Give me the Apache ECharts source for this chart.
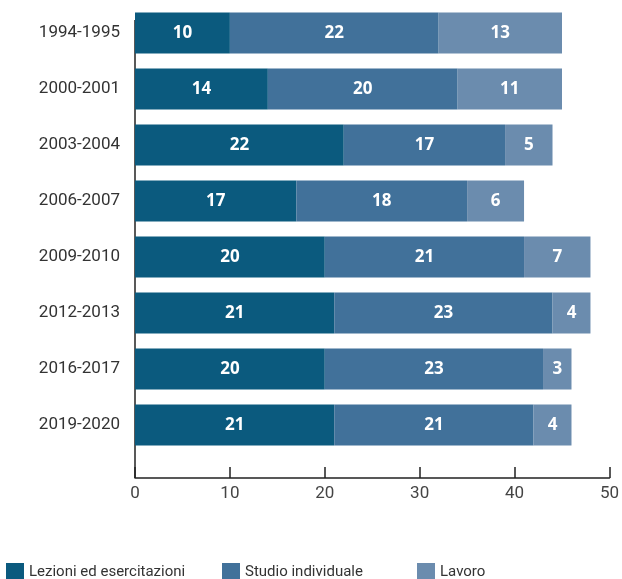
<!DOCTYPE html>
<html>
<head>
<meta charset="utf-8">
<script src="https://cdn.jsdelivr.net/npm/echarts@6/dist/echarts.min.js"></script>
<style>
  html, body { margin: 0; padding: 0; background: #fff; }
  #chart { width: 622px; height: 579px; }
</style>
</head>
<body>
<div id="chart"></div>
<script>
// anni accademici
var categories = ["1994-1995", "2000-2001", "2003-2004", "2006-2007", "2009-2010", "2012-2013", "2016-2017", "2019-2020"];
var lezioni = [10, 14, 22, 17, 20, 21, 20, 21];
var studio = [22, 20, 17, 18, 21, 23, 23, 21];
var lavoro = [13, 11, 5, 6, 7, 4, 3, 4];
var seriesNames = ["Lezioni ed esercitazioni", "Studio individuale", "Lavoro"];
var colors = ["#0b5a7e", "#41719a", "#6b8cae"];

var myChart = echarts.init(document.getElementById("chart"));

function makeSeries(name, data, color) {
  return {
    name: name,
    type: "bar",
    stack: "tot",
    data: data,
    barWidth: 41,
    itemStyle: { color: color },
    label: {
      show: true,
      position: "inside",
      color: "#fff",
      fontWeight: "bold",
      fontSize: 17,
      fontFamily: "Open Sans"
    }
  };
}

function makeLegend(i, left) {
  return {
    data: [seriesNames[i]],
    left: left,
    top: 558,
    itemWidth: 18,
    itemHeight: 18,
    icon: "rect",
    itemGap: 8,
    textStyle: { fontSize: 15, color: "#333", fontFamily: "Roboto" }
  };
}

var option = {
  animation: false,
  color: colors,
  grid: { left: 135, right: 11, top: 5, height: 448 },
  legend: [makeLegend(0, 1), makeLegend(1, 217), makeLegend(2, 412)],
  xAxis: {
    type: "value",
    min: 0,
    max: 50,
    interval: 10,
    offset: 25,
    splitLine: { show: false },
    axisLine: { show: true, lineStyle: { color: "#222", width: 1.5 } },
    axisTick: { show: true, inside: true, length: 11, lineStyle: { color: "#222", width: 1.5 } },
    axisLabel: { fontSize: 17, color: "#444", margin: 7, fontFamily: "Roboto" }
  },
  yAxis: {
    type: "category",
    inverse: true,
    data: categories,
    axisLine: { show: false },
    axisTick: { show: false },
    axisLabel: { fontSize: 17, color: "#333", margin: 15, fontFamily: "Roboto" }
  },
  graphic: [{
    type: "line",
    shape: { x1: 135, y1: 20, x2: 135, y2: 478 },
    style: { stroke: "#222", lineWidth: 1.5 }
  }],
  series: [
    makeSeries(seriesNames[0], lezioni, colors[0]),
    makeSeries(seriesNames[1], studio, colors[1]),
    makeSeries(seriesNames[2], lavoro, colors[2])
  ]
};

myChart.setOption(option);
</script>
</body>
</html>
